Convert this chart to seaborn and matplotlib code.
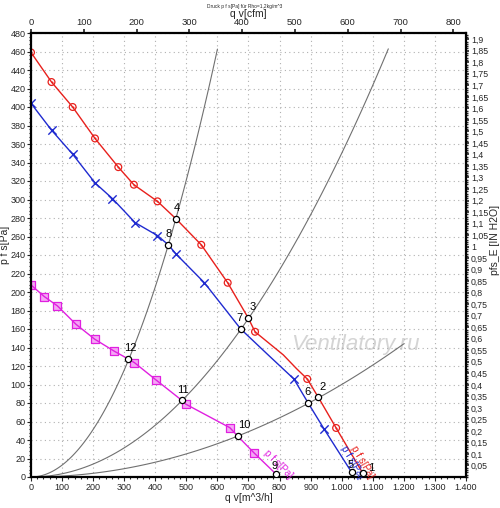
import numpy as np
import pandas as pd
import matplotlib
matplotlib.use("Agg")
import matplotlib.pyplot as plt
import matplotlib.ticker as mticker
import seaborn as sns

# -----------------------------------------------------------------------------
# Style
# -----------------------------------------------------------------------------
sns.set_theme(style="white")
plt.rcParams["font.family"] = ["Liberation Sans", "DejaVu Sans"]

# -----------------------------------------------------------------------------
# Data
# -----------------------------------------------------------------------------
# red fan curve, circle markers
red_q = [0, 66, 134, 206, 281, 331, 407, 548, 633, 721, 812, 855, 889, 982, 1072]
red_p = [459, 427, 400, 366, 335, 316, 298, 251, 210, 157, 132, 117, 106, 53, 0]
red_mark = [0, 66, 134, 206, 281, 331, 407, 548, 633, 721, 889, 982]

# blue fan curve, x markers
blue_q = [0, 66, 134, 206, 262, 335, 407, 467, 558, 760, 846, 943, 1036]
blue_p = [404, 375, 349, 318, 301, 275, 261, 241, 210, 133, 106, 52, 0]
blue_mark = [0, 66, 134, 206, 262, 335, 407, 467, 558, 846, 943]

# magenta fan curve, square markers
mag_q = [0, 43, 85, 145, 205, 268, 333, 402, 499, 640, 718, 792]
mag_p = [207.6, 195, 185, 165, 149, 136, 123.6, 105, 78.6, 53.3, 26, 0]
mag_mark = [0, 43, 85, 145, 205, 268, 333, 402, 499, 640, 718]

# operating points (number, q, p)
op_num = ["1", "2", "3", "4", "5", "6", "7", "8", "9", "10", "11", "12"]
op_q = [1068, 925, 699, 467, 1032, 892, 675, 442, 789, 665, 485, 313]
op_p = [4, 86, 172, 279, 5, 80, 160, 251, 3, 44.3, 83, 127.6]
op_color = ["red", "red", "red", "red", "blue", "blue", "blue", "blue",
            "m", "m", "m", "m"]

# system curves p = k * q^2 and their end flow
sys_k = [0.001285, 0.00035, 0.0001]
sys_qmax = [600, 1150, 1200]

# axis ticks
ticks_q = list(range(0, 1401, 100))
ticks_cfm = list(range(0, 801, 100))
ticks_inh2o = [round(0.05 * i, 2) for i in range(1, 39)]

# -----------------------------------------------------------------------------
# Build tables
# -----------------------------------------------------------------------------
ops = pd.DataFrame({"num": op_num, "q": op_q, "p": op_p, "c": op_color})


def with_ops(q, p, color):
    sub = ops[ops["c"] == color]
    df = pd.concat([pd.DataFrame({"q": q, "p": p}),
                    pd.DataFrame({"q": sub["q"], "p": sub["p"]})])
    return df.sort_values("q").reset_index(drop=True)


df_red = with_ops(red_q, red_p, "red")
df_blue = with_ops(blue_q, blue_p, "blue")
df_mag = with_ops(mag_q, mag_p, "m")

sys_frames = []
for i, (k, qm) in enumerate(zip(sys_k, sys_qmax)):
    qq = np.linspace(15, qm, 80)
    sys_frames.append(pd.DataFrame({"q": qq, "p": k * qq ** 2, "sys": i}))
df_sys = pd.concat(sys_frames)

red_c, blue_c, mag_c = "#e8201c", "#1f2ad0", "#e020e0"

# -----------------------------------------------------------------------------
# Plot
# -----------------------------------------------------------------------------
fig = plt.figure(figsize=(5, 5.08), dpi=100)
ax = fig.add_axes([31 / 500, 31 / 508, 435 / 500, 444 / 508])

# watermark
ax.text(1045, 143, "Ventilatory.ru", color="#d4d4d4", fontsize=16,
        style="italic", ha="center", va="center", zorder=0)

sns.lineplot(data=df_sys, x="q", y="p", units="sys", estimator=None,
             color="#707070", lw=0.8, ax=ax, legend=False)

for df, col in [(df_red, red_c), (df_blue, blue_c), (df_mag, mag_c)]:
    sns.lineplot(data=df, x="q", y="p", estimator=None, sort=False,
                 color=col, lw=1.0, ax=ax, legend=False)

# markers
mk_red = pd.DataFrame({"q": red_q, "p": red_p})
mk_red = mk_red[mk_red["q"].isin(red_mark)]
sns.scatterplot(data=mk_red, x="q", y="p", marker="o", s=24,
                facecolor="none", edgecolor=red_c, linewidth=0.9, ax=ax)
sns.scatterplot(data=mk_red, x="q", y="p", marker="o", s=2,
                color=red_c, linewidth=0, ax=ax)
mk_blue = pd.DataFrame({"q": blue_q, "p": blue_p})
mk_blue = mk_blue[mk_blue["q"].isin(blue_mark)]
sns.scatterplot(data=mk_blue, x="q", y="p", marker="x", s=36,
                color=blue_c, linewidth=1.0, ax=ax)
mk_mag = pd.DataFrame({"q": mag_q, "p": mag_p})
mk_mag = mk_mag[mk_mag["q"].isin(mag_mark)]
sns.scatterplot(data=mk_mag, x="q", y="p", marker="s", s=36,
                facecolor="#f4a8f4", edgecolor=mag_c, linewidth=0.9, ax=ax)

# operating points
sns.scatterplot(data=ops, x="q", y="p", marker="o", s=20, facecolor="white",
                edgecolor="black", linewidth=0.9, ax=ax, zorder=5)
offsets = {"1": (4, 0), "2": (1, 4), "3": (1, 4), "4": (-2, 4), "5": (-3, 2),
           "6": (-3, 4), "7": (-3, 4), "8": (-2, 4), "9": (-3, 2),
           "10": (0, 4), "11": (-3, 4), "12": (-3, 4)}
for _, r in ops.iterrows():
    dx, dy = offsets[r["num"]]
    ax.annotate(r["num"], (r["q"], r["p"]), xytext=(dx, dy),
                textcoords="offset points", fontsize=8, color="black",
                ha="left", va="bottom", zorder=6)

# curve labels
ax.text(1022, 30, "p f s[Pa]", color=red_c, fontsize=7,
        rotation=-60, rotation_mode="anchor", ha="left", va="bottom")
ax.text(992, 30, "p f s[Pa]", color=blue_c, fontsize=7,
        rotation=-60, rotation_mode="anchor", ha="left", va="bottom")
ax.text(742, 24, "p f s[Pa]", color=mag_c, fontsize=7,
        rotation=-45, rotation_mode="anchor", ha="left", va="bottom")

# axes and ticks
ax.set_xlim(0, 1400)
ax.set_ylim(0, 480)
ax.xaxis.set_major_locator(mticker.FixedLocator(ticks_q))
ax.xaxis.set_minor_locator(mticker.MultipleLocator(20))
ax.yaxis.set_major_locator(mticker.MultipleLocator(20))
ax.yaxis.set_minor_locator(mticker.MultipleLocator(4))
ax.xaxis.set_major_formatter(mticker.FuncFormatter(
    lambda v, _: f"{v:,.0f}".replace(",", ".")))
ax.grid(True, which="major", color="#b0b0b0", ls=(0, (1, 3)), lw=0.8)
ax.tick_params(which="both", direction="out", labelsize=6.5, length=3,
               width=0.8, pad=1, bottom=True, left=True)
ax.tick_params(which="minor", length=1.5)
for s in ax.spines.values():
    s.set_color("black")
    s.set_linewidth(1.6)
ax.set_xlabel("q v[m^3/h]", fontsize=7.5, labelpad=1)
ax.set_ylabel("")
fig.text(5 / 500, 1 - 245 / 508, "p f s[Pa]", fontsize=7.5, rotation=90,
         ha="center", va="center")

top = ax.secondary_xaxis("top", functions=(lambda q: q / 1.699, lambda c: c * 1.699))
top.xaxis.set_major_locator(mticker.FixedLocator(ticks_cfm))
top.tick_params(labelsize=6.8, length=3, pad=1, direction="out")
top.set_xlabel("q v[cfm]", fontsize=7.5, labelpad=1)

right = ax.secondary_yaxis("right", functions=(lambda p: p / 249.089, lambda i: i * 249.089))
right.yaxis.set_major_locator(mticker.FixedLocator(ticks_inh2o))
right.yaxis.set_minor_locator(mticker.MultipleLocator(0.01))
right.yaxis.set_major_formatter(mticker.FuncFormatter(
    lambda v, _: f"{v:.2f}".rstrip("0").rstrip(".").replace(".", ",")))
right.tick_params(which="both", labelsize=6.3, length=2.5, pad=1, direction="out")
right.tick_params(which="minor", length=1.5)
fig.text(495 / 500, 1 - 240 / 508, "pfs_E [IN H2O]", fontsize=7.5, rotation=90,
         ha="center", va="center")

fig.text(0.49, 0.992, "Druck p f s[Pa] für Rho=1,2kg/m^3", fontsize=3.5,
         ha="center", va="top")

fig.savefig("out.png", dpi=100)
